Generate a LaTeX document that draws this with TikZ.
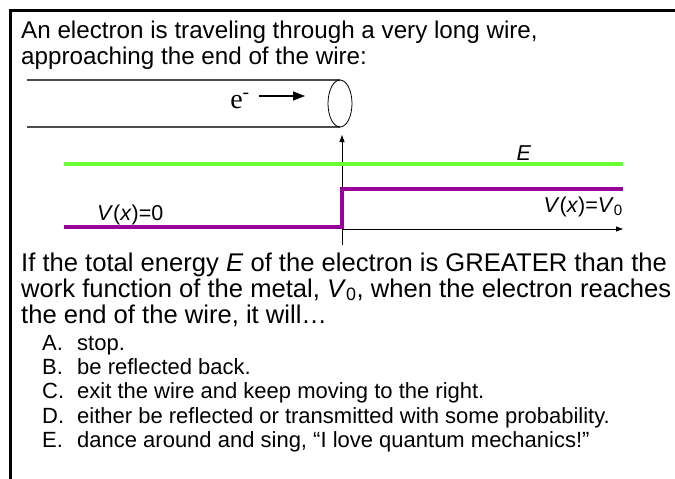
\documentclass[tikz,border=0pt]{standalone}
\usepackage{fontspec}
\setmainfont{Liberation Sans}
\newfontfamily\timesface{Liberation Serif}
\usetikzlibrary{arrows.meta,positioning}
\definecolor{energygreen}{RGB}{102,255,51}
\definecolor{steppurple}{RGB}{153,0,153}

\begin{document}
\begin{tikzpicture}[x=1pt, y=-1pt,
	frame/.style={line width=3pt},
	wire/.style={line width=1.2pt, draw=black!70},
	axis/.style={line width=0.8pt, -{Triangle[length=7pt,width=5pt]}},
	energy/.style={draw=energygreen, line width=4pt},
	potential/.style={draw=steppurple, line width=4pt},
	lbl/.style={font=\fontsize{21.5}{24}\selectfont, inner sep=0pt},
	textline/.style={font=\fontsize{24.2}{27}\selectfont, inner sep=0pt, anchor=base west},
	bigline/.style={font=\fontsize{25.6}{27}\selectfont, inner sep=0pt, anchor=base west},
	itemline/.style={font=\fontsize{22}{24}\selectfont, inner sep=0pt, anchor=base west}]

\useasboundingbox (0,0) rectangle (675,479);

%frame
\draw[frame] (10,479) -- (10,10) -- (675,10);

%question
\node[textline] (q1) at (21,38) {An electron is traveling through a very long wire,};
\node[textline] (q2) at (21,64) {approaching the end of the wire:};

%wire
\coordinate (wireTL) at (27,80);
\coordinate (wireBL) at (27,127);
\coordinate (wireTR) at (340,80);
\coordinate (wireBR) at (340,127);
\draw[wire] (wireTL) -- (wireTR);
\draw[wire] (wireBL) -- (wireBR);
\draw[line width=0.8pt] (340,103.5) ellipse (12 and 23.5);

%electron
\node[inner sep=0pt, anchor=base, font=\timesface\fontsize{28}{28}\selectfont] (elec) at (240,108) {e\textsuperscript{-}};
\coordinate (elecEnd) at (305,96);
\draw[line width=1.6pt, -{Triangle[length=12pt,width=9pt]}] (259,96) -- (elecEnd);

%coordinate system
\coordinate (O) at (342,229);
\coordinate (ybot) at (342,245);
\coordinate (ytop) at (342,135);
\coordinate (xend) at (623,229);
\draw[axis] (ybot) -- (ytop);
\draw[axis] (O) -- (xend);

%energy and potential
\draw[energy] (64,164) -- (623,164);
\node[lbl, anchor=base] (Elab) at (524,160) {\textit{E}};
\draw[potential] (64,227) -- (342,227) -- (342,189) -- (623,189);
\node[lbl, anchor=base west] (Vlow) at (97,220) {\textit{V}(\textit{x})=0};
\node[lbl, anchor=base east] (Vhigh) at (623,212) {\textit{V}(\textit{x})=\textit{V}\textsubscript{0}};

%answers
\node[bigline] (p1) at (21,271) {If the total energy \textit{E} of the electron is GREATER than the};
\node[bigline] (p2) at (21,297) {work function of the metal, \textit{V}\textsubscript{0}, when the electron reaches};
\node[bigline] (p3) at (21,323) {the end of the wire, it will…};
\foreach \lab/\txt [count=\i] in {A/stop., B/be reflected back., C/exit the wire and keep moving to the right., D/either be reflected or transmitted with some probability., E/{dance around and sing, “I love quantum mechanics!”}}
{
	\node[itemline] (lab\i) at (42,326+24.3*\i) {\lab.};
	\node[itemline] (item\i) at (77,326+24.3*\i) {\txt};
}

\end{tikzpicture}
\end{document}
